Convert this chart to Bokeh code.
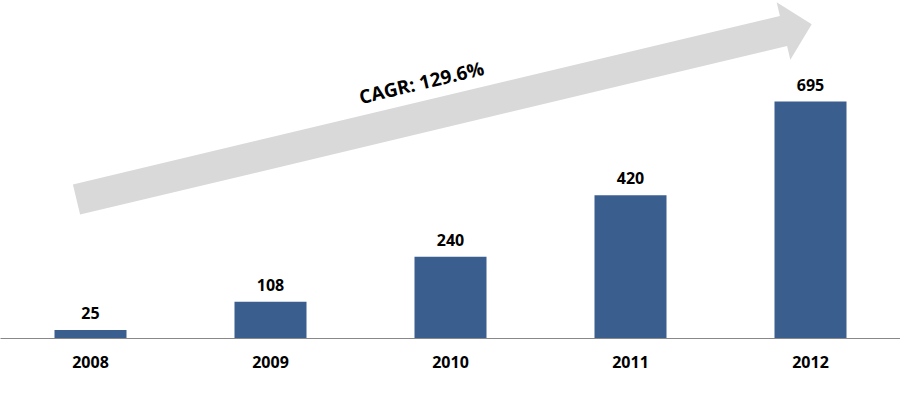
import numpy as np
from bokeh.plotting import figure
from bokeh.models import Range1d, FixedTicker, ColumnDataSource
from bokeh.core.properties import value
from bokeh.embed import file_html
from bokeh.resources import INLINE

# ---- data ----
years = ["2008", "2009", "2010", "2011", "2012"]
values = [25, 108, 240, 420, 695]
cagr_label = "CAGR: 129.6%"

# ---- layout constants ----
W, H = 900, 401
BOTTOM = 63
FW, FH = W, H - BOTTOM
OFF = 0
X0, X1 = -0.5, 4.5
YMAX = FH / (237.0 / 695.0)
FONT = "Open Sans"
BAR_COLOR = "#3A5F8F"

xs = list(range(len(years)))

p = figure(width=W, height=H, output_backend="svg", toolbar_location=None,
           x_range=Range1d(X0, X1), y_range=Range1d(0, YMAX),
           min_border_left=0, min_border_right=0, min_border_top=0,
           min_border_bottom=BOTTOM)
p.outline_line_color = None
p.background_fill_color = "white"
p.border_fill_color = "white"
p.grid.visible = False
p.yaxis.visible = False

ax = p.xaxis[0]
ax.ticker = FixedTicker(ticks=xs)
ax.major_label_overrides = {i: y for i, y in enumerate(years)}
ax.major_tick_in = 0
ax.major_tick_out = 0
ax.minor_tick_in = 0
ax.minor_tick_out = 0
ax.axis_line_color = "#888888"
ax.axis_line_width = 1
ax.major_label_text_font = FONT
ax.major_label_text_font_style = "bold"
ax.major_label_text_font_size = "16px"
ax.major_label_text_color = "black"
ax.major_label_standoff = 17

# ---- arrow (pixel geometry converted to data coordinates) ----
def px2data(px, py):
    fx = px - OFF
    fy = py - OFF
    return X0 + fx / FW * (X1 - X0), (FH - fy) / FH * YMAX

T = np.array([76.0, 199.0])
B = np.array([783.0, 30.5])
u = (B - T) / np.linalg.norm(B - T)
n = np.array([-u[1], u[0]])
h, Hh, L = 15.5, 29.5, 29.0
pts = [T - h * n, B - h * n, B - Hh * n, B + L * u, B + Hh * n, B + h * n, T + h * n]
ax_x, ax_y = zip(*[px2data(*pt) for pt in pts])
p.patch(list(ax_x), list(ax_y), fill_color="#D9D9D9", line_color=None)

# CAGR label
ang = float(np.arctan2(-(u[1]), u[0]))
cx, cy = px2data(421, 82)
p.text(x=[cx], y=[cy], text=[cagr_label], angle=ang,
       text_font=value(FONT), text_font_style="bold", text_font_size="19px",
       text_align="center", text_baseline="middle", text_color="black")

# ---- bars ----
src = ColumnDataSource(dict(x=xs, top=values, lab=[str(v) for v in values]))
p.vbar(x="x", top="top", width=0.4, bottom=0, source=src,
       fill_color=BAR_COLOR, line_color=None)
p.text(x="x", y="top", text="lab", source=src, y_offset=-17,
       text_font=value(FONT), text_font_style="bold", text_font_size="16px",
       text_align="center", text_baseline="middle", text_color="black")

open("out.html", "w").write(file_html(p, INLINE))
